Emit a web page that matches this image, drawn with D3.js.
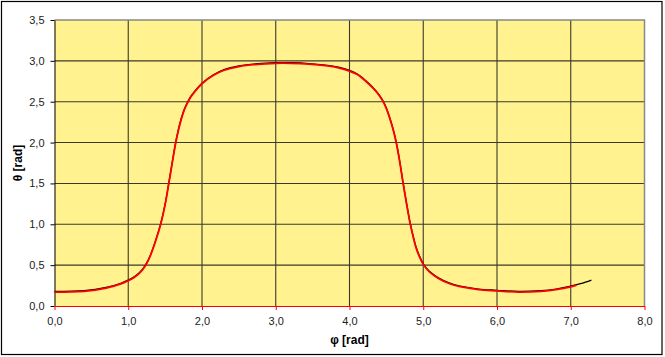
<!DOCTYPE html>
<html>
<head>
<meta charset="utf-8">
<script src="https://cdn.jsdelivr.net/npm/d3@7"></script>
<style>
  body { margin: 0; background: #fff; }
  svg text { font-family: "Liberation Sans", Arial, sans-serif; }
</style>
</head>
<body>
<div id="chart"></div>
<script>
// values
var phi = [0.0, 0.4, 0.7, 0.9, 1.0, 1.08, 1.15, 1.2, 1.25, 1.3, 1.38, 1.44, 1.5, 1.55, 1.6, 1.64, 1.68, 1.72, 1.76, 1.8, 1.85, 1.9,
           2.0, 2.15, 2.3, 2.5, 2.75, 3.0, 3.2, 3.45, 3.73, 3.85, 4.0, 4.1, 4.19, 4.27, 4.32, 4.4, 4.45, 4.5, 4.55, 4.6, 4.64, 4.68, 4.72, 4.77,
           4.82, 4.86, 4.9, 4.95, 5.0, 5.05, 5.1, 5.2, 5.35, 5.5, 5.75, 6.0, 6.3, 6.6, 6.8, 7.0, 7.08, 7.15, 7.28];
var theta = [0.17, 0.18, 0.22, 0.27, 0.31, 0.35, 0.40, 0.45, 0.52, 0.615, 0.82, 1.00, 1.24, 1.50, 1.77, 1.98, 2.15, 2.29, 2.40, 2.48, 2.56, 2.62,
             2.72, 2.82, 2.885, 2.93, 2.958, 2.97, 2.97, 2.96, 2.935, 2.915, 2.875, 2.835, 2.775, 2.71, 2.665, 2.58, 2.51, 2.415, 2.285, 2.13, 1.97, 1.77, 1.54, 1.27,
             1.02, 0.86, 0.72, 0.60, 0.51, 0.45, 0.405, 0.34, 0.275, 0.236, 0.20, 0.185, 0.17, 0.18, 0.20, 0.235, 0.255, 0.27, 0.31];
var redEnd = 7.08;   // red series stops here, black one runs on
var xTicks = [0, 1, 2, 3, 4, 5, 6, 7, 8];
var yTicks = [0, 0.5, 1, 1.5, 2, 2.5, 3, 3.5];

var W = 665, H = 357;
var margin = {top: 20, right: 20.5, bottom: 51, left: 54.5};
var width = W - margin.left - margin.right,
    height = H - margin.top - margin.bottom;

var fmt = function (d) { return d3.format(".1f")(d).replace(".", ","); };

var svg = d3.select("#chart").append("svg")
  .attr("width", W)
  .attr("height", H);

// outer frame
svg.append("rect")
  .attr("x", 1.5).attr("y", 1.5)
  .attr("width", 660.5).attr("height", 353)
  .attr("fill", "#fff")
  .attr("stroke", "#000")
  .attr("stroke-width", 1.2);

var g = svg.append("g")
  .attr("transform", "translate(" + margin.left + "," + margin.top + ")");

var x = d3.scaleLinear().domain([0, 8]).range([0, width]);
var y = d3.scaleLinear().domain([0, 3.5]).range([height, 0]);

// plot area
g.append("rect")
  .attr("width", width)
  .attr("height", height)
  .attr("fill", "#fff28f");

// grid
g.selectAll(".vgrid").data(xTicks.slice(1, -1)).enter().append("line")
  .attr("x1", d => x(d)).attr("x2", d => x(d))
  .attr("y1", 0).attr("y2", height)
  .attr("stroke", "#3a3a2a").attr("stroke-width", 1.1);

g.selectAll(".hgrid").data(yTicks.slice(1, -1)).enter().append("line")
  .attr("x1", 0).attr("x2", width)
  .attr("y1", d => y(d)).attr("y2", d => y(d))
  .attr("stroke", "#3a3a2a").attr("stroke-width", 1.1);

// top + right border in grey
g.append("path")
  .attr("d", "M0," + y(3.5) + "H" + width + "V" + height)
  .attr("fill", "none")
  .attr("stroke", "#888")
  .attr("stroke-width", 1.5);

// y axis
var yAxis = g.append("g")
  .call(d3.axisLeft(y).tickValues(yTicks).tickFormat(fmt).tickSize(4).tickSizeOuter(0));
yAxis.select(".domain").attr("stroke", "#000");
yAxis.selectAll("line").attr("stroke", "#000");
yAxis.selectAll("text").attr("font-size", "11px").attr("fill", "#222").attr("dx", "-3");

// x axis (red)
var xAxis = g.append("g")
  .attr("transform", "translate(0," + height + ")")
  .call(d3.axisBottom(x).tickValues(xTicks).tickFormat(fmt).tickSize(4).tickSizeOuter(0));
xAxis.select(".domain").attr("stroke", "#f00").attr("stroke-width", 1.2);
xAxis.selectAll("line").attr("stroke", "#f00");
xAxis.selectAll("text").attr("font-size", "11px").attr("fill", "#222").attr("dy", "1.05em");

var pts = phi.map(function (p, i) { return {x: p, y: theta[i]}; });

var line = d3.line()
  .x(d => x(d.x))
  .y(d => y(d.y))
  .curve(d3.curveCatmullRom.alpha(0.5));

g.append("path")
  .datum(pts)
  .attr("d", line)
  .attr("fill", "none")
  .attr("stroke", "#000")
  .attr("stroke-width", 1.3)
  .attr("transform", "translate(0,-0.6)");

g.append("path")
  .datum(pts.filter(d => d.x <= redEnd))
  .attr("d", line)
  .attr("fill", "none")
  .attr("stroke", "#f00")
  .attr("stroke-width", 1.8);

// axis titles
svg.append("text")
  .attr("x", margin.left + width / 2)
  .attr("y", 344)
  .attr("text-anchor", "middle")
  .attr("font-size", "12px")
  .attr("font-weight", "bold")
  .text("φ [rad]");

svg.append("text")
  .attr("transform", "translate(22," + (margin.top + height / 2) + ") rotate(-90)")
  .attr("text-anchor", "middle")
  .attr("font-size", "12px")
  .attr("font-weight", "bold")
  .text("θ [rad]");
</script>
</body>
</html>
